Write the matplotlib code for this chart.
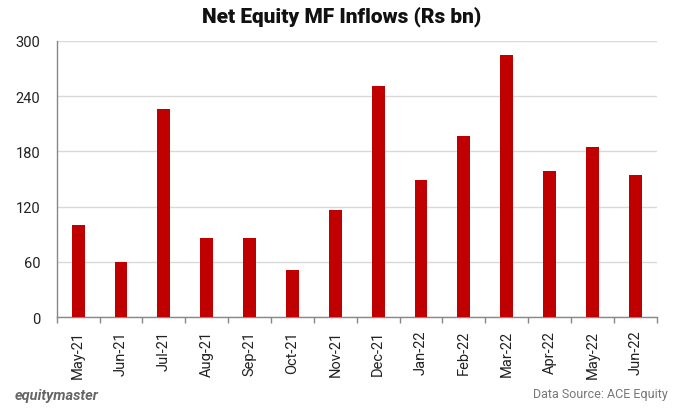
import numpy as np
import matplotlib
matplotlib.use("Agg")
import matplotlib.pyplot as plt

plt.rcParams['font.family'] = ['Roboto', 'DejaVu Sans']

# data
months = ["May-21", "Jun-21", "Jul-21", "Aug-21", "Sep-21", "Oct-21", "Nov-21",
          "Dec-21", "Jan-22", "Feb-22", "Mar-22", "Apr-22", "May-22", "Jun-22"]
inflows = [100, 60, 226, 86, 86, 51, 116, 251, 149, 197, 285, 159, 185, 154]
yticks = [0, 60, 120, 180, 240, 300]

fig = plt.figure(figsize=(6.75, 4.1), dpi=100)
ax = fig.add_axes([56.7 / 675, 1 - 318.3 / 410, 600 / 675, 276.6 / 410])

x = np.arange(len(months))
ax.bar(x, inflows, width=0.3, color="#C00000", zorder=3)

ax.set_xlim(-0.5, len(months) - 0.5)
ax.set_ylim(0, 300)
ax.set_yticks(yticks)
ax.tick_params(axis="y", length=0, labelsize=10.5, pad=12, colors="#222222")
ax.grid(axis="y", color="#d9d9d9", linewidth=1, zorder=0)

# category ticks sit between bars
ax.set_xticks(x)
ax.set_xticklabels(months, rotation=90, fontsize=10.5, color="#222222")
ax.set_xticks(np.arange(len(months) + 1) - 0.5, minor=True)
ax.tick_params(axis="x", which="major", length=0, pad=9)
ax.tick_params(axis="x", which="minor", length=4, color="#888888", width=1)

for side in ["top", "right"]:
    ax.spines[side].set_visible(False)
for side in ["left", "bottom"]:
    ax.spines[side].set_color("#888888")
    ax.spines[side].set_linewidth(1)

fig.text(342 / 675, 1 - 17 / 410, "Net Equity MF Inflows (Rs bn)", ha="center", va="center",
         fontsize=15, fontweight="black", color="#111111")
fig.text(15 / 675, 1 - 396 / 410, "equitymaster", ha="left", va="center",
         fontsize=10.5, fontweight="bold", style="italic", color="#666666")
fig.text(668 / 675, 1 - 395 / 410, "Data Source: ACE Equity", ha="right", va="center",
         fontsize=9, color="#777777")

fig.savefig("out.png", dpi=100)
